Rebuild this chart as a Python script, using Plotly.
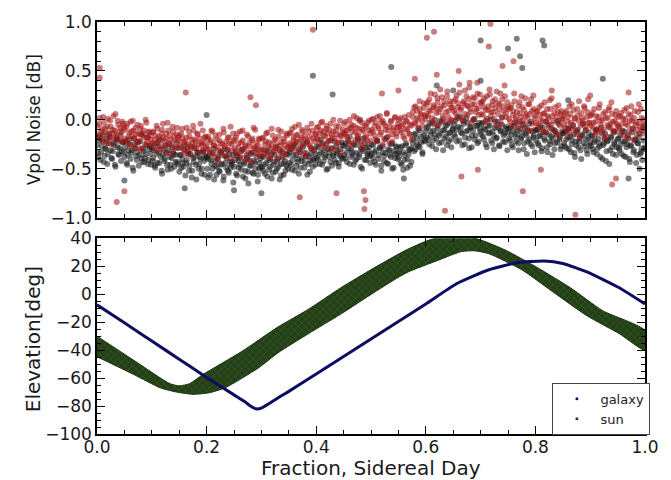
import numpy as np
import plotly.graph_objects as go

# ---------------- data: top panel (Vpol noise, hundredths of dB) ----------------
# Two interleaved sample sets per data set, 400 samples each, spread evenly over the day
BLACK_NOISE_A = [
    -26,-38,-17,-33,-22,-43,-29,-19,-35,-14,-31,-40,-24,-46,-20,-28,-36,-16,-32,-23,
    -38,-22,-46,-31,-25,-34,-49,-19,-29,-41,-23,-36,-15,-43,-32,-39,-26,-45,-30,-35,
    -29,-39,-47,-24,-44,-33,-21,-52,-36,-42,-26,-46,-31,-38,-50,-28,-35,-43,-23,-45,
    -53,-36,-40,-48,-26,-44,-32,-52,-35,-59,-39,-29,-46,-33,-50,-38,-55,-31,-42,-37,
    -38,-59,-35,-41,-50,-29,-47,-56,-40,-52,-33,-45,-62,-37,-49,-31,-54,-43,-46,-36,
    -48,-34,-57,-42,-39,-51,-30,-45,-60,-36,-53,-41,-47,-33,-55,-44,-38,-63,-50,-40,
    -37,-52,-46,-31,-58,-41,-48,-35,-54,-43,-29,-50,-39,-61,-45,-33,-56,-42,-47,-36,
    -44,-30,-51,-36,-25,-47,-40,-55,-33,-42,-28,-49,-38,-23,-45,-53,-35,-41,-31,-46,
    -27,-41,-36,-20,-46,-31,-38,-25,-50,-33,-43,-29,-37,-22,-44,-35,-48,-30,-39,-26,
    -36,-24,-43,-29,-17,-38,-33,-46,-26,-40,-21,-35,-48,-30,-19,-41,-28,-37,-32,-44,
    -25,-39,-33,-46,-21,-36,-29,-52,-27,-42,-34,-18,-45,-31,-38,-24,-49,-35,-28,-40,
    -33,-44,-27,-51,-36,-24,-40,-31,-47,-29,-20,-32,-14,-25,-9,-28,-17,-35,-22,-12,
    -8,-20,-3,-16,-27,-11,0,-19,-6,-24,-14,-2,-31,-10,-17,-5,-22,-13,-28,-9,
    -15,-1,-22,-7,4,-13,-26,-4,-18,2,-11,-29,-8,-16,0,-20,-6,-24,-3,-12,
    -4,-17,-9,-25,1,-14,-6,-21,-12,-30,-2,-18,-8,-27,-11,3,-16,-23,-7,-13,
    -19,-8,-26,-12,-3,-22,-15,-31,-9,-18,-5,-24,-14,-35,-11,-20,-2,-27,-16,-10,
    -11,-24,-17,-6,-29,-13,-21,-2,-33,-15,-25,-9,-19,-30,-12,-23,-4,-18,-27,-14,
    -24,-12,-29,-18,-8,-33,-21,-15,-38,-26,-10,-22,-31,-16,-4,-27,-20,-35,-13,-23,
    -17,-30,-23,-11,-35,-19,-27,-8,-40,-24,-14,-32,-21,-45,-18,-28,-12,-25,-36,-20,
    -29,-16,-35,-22,-12,-38,-25,-19,-43,-27,-9,-31,-20,-36,-24,-14,-33,-41,-21,-28,
]
BLACK_NOISE_B = [
    -34,-21,-41,-27,-15,-37,-30,-45,-24,-18,-39,-32,-26,-48,-20,-35,-29,-42,-23,-33,
    -28,-44,-36,-20,-40,-31,-52,-25,-37,-33,-47,-22,-39,-29,-43,-35,-18,-41,-27,-46,
    -42,-31,-49,-35,-27,-44,-38,-55,-30,-40,-34,-51,-25,-46,-39,-33,-48,-36,-43,-29,
    -36,-49,-44,-30,-57,-41,-35,-47,-27,-52,-43,-38,-61,-34,-45,-40,-50,-33,-56,-39,
    -50,-40,-56,-45,-34,-61,-42,-48,-37,-53,-46,-31,-58,-44,-39,-52,-35,-49,-43,-64,
    -41,-55,-37,-49,-46,-32,-58,-43,-52,-39,-65,-47,-35,-54,-42,-50,-30,-56,-44,-48,
    -49,-38,-55,-44,-33,-51,-40,-60,-46,-36,-53,-42,-48,-31,-57,-39,-45,-52,-35,-50,
    -33,-46,-41,-27,-52,-36,-43,-30,-49,-39,-24,-44,-34,-56,-37,-42,-29,-48,-40,-35,
    -39,-28,-45,-33,-24,-42,-36,-51,-30,-38,-21,-47,-35,-41,-27,-32,-44,-37,-23,-40,
    -27,-39,-33,-22,-45,-30,-36,-25,-42,-34,-19,-38,-29,-50,-32,-24,-41,-35,-28,-37,
    -35,-26,-43,-31,-22,-40,-28,-47,-33,-37,-20,-44,-30,-36,-25,-50,-32,-39,-27,-34,
    -38,-28,-46,-33,-41,-26,-49,-35,-30,-43,-24,-15,-30,-19,-27,-11,-23,-33,-16,-21,
    -18,-7,-25,-12,-4,-21,-15,-30,-9,-16,-1,-23,-11,-19,-6,-26,-14,-3,-20,-10,
    -5,-17,-10,2,-21,-8,-14,-1,-25,-12,-3,-19,-7,-28,-11,1,-16,-6,-22,-9,
    -15,-3,-20,-10,-28,-6,-13,0,-24,-16,-8,-19,-2,-26,-12,-5,-22,-14,-9,-31,
    -9,-21,-15,-28,-6,-17,-11,-24,-2,-19,-13,-30,-8,-16,-22,-4,-25,-12,-18,-33,
    -21,-10,-26,-16,-32,-8,-19,-13,-28,-5,-22,-17,-36,-11,-24,-15,-1,-20,-30,-12,
    -14,-27,-20,-9,-30,-17,-25,-6,-34,-22,-12,-28,-19,-40,-15,-24,-11,-31,-18,-26,
    -27,-16,-33,-21,-10,-29,-24,-38,-14,-26,-19,-42,-22,-7,-31,-17,-35,-23,-12,-28,
    -19,-31,-25,-11,-37,-22,-28,-16,-40,-26,-13,-33,-21,-44,-24,-18,-35,-29,-8,-30,
]
RED_NOISE_A = [
    -6,-17,2,-12,-20,-3,-9,-24,1,-14,-7,-19,4,-11,-16,-1,-22,-8,-13,-4,
    -10,-21,-4,-17,-26,-12,-1,-19,-8,-23,-14,-29,-6,-16,-11,-25,-3,-18,-13,-20,
    -24,-12,-20,-31,-9,-17,-27,-14,-4,-22,-19,-33,-11,-16,-26,-7,-21,-29,-15,-18,
    -16,-28,-9,-23,-35,-18,-25,-12,-30,-20,-6,-27,-22,-14,-33,-19,-26,-11,-24,-17,
    -29,-17,-33,-21,-12,-26,-38,-20,-31,-15,-24,-36,-9,-27,-22,-30,-18,-40,-25,-14,
    -20,-32,-14,-28,-37,-23,-11,-30,-26,-41,-17,-27,-34,-21,-8,-29,-24,-35,-19,-31,
    -30,-18,-35,-22,-13,-28,-39,-25,-16,-32,-20,-27,-10,-33,-23,-37,-19,-26,-14,-29,
    -14,-26,-9,-21,-31,-16,-23,-5,-28,-18,-12,-34,-20,-8,-25,-17,-30,-11,-22,-15,
    -19,-7,-24,-11,-2,-16,-28,-9,-14,-21,-4,-18,-12,-30,-6,-15,-23,-1,-17,-10,
    -4,-15,-11,-20,0,-8,-24,-6,-13,2,-17,-9,-26,-3,-12,-18,-7,-22,-1,-14,
    -10,1,-16,-3,-21,-7,4,-13,-1,-19,-6,7,-11,-24,-2,-15,-8,3,-17,-4,
    0,-11,-6,-17,3,-9,-2,-14,-5,-20,8,-3,14,2,-8,11,5,-1,17,4,
    16,4,21,9,-2,13,26,7,18,-5,11,23,1,15,8,29,3,19,12,-1,
    9,21,3,17,28,12,-1,19,6,24,14,33,8,16,0,22,11,27,5,18,
    17,5,22,10,-2,14,26,8,19,1,12,29,6,16,-4,21,9,24,3,13,
    1,12,-6,9,19,3,-3,14,7,24,-1,10,4,-9,16,6,21,-4,11,2,
    8,-5,13,0,-11,6,18,-2,4,-8,11,22,-1,7,-14,3,15,-6,9,1,
    -5,7,-12,3,14,-3,-9,10,1,-15,5,19,-6,2,-1,12,-10,8,-3,4,
    5,-8,11,-2,-13,3,16,-5,0,-10,8,-17,2,13,-4,6,-11,-1,9,-6,
    -7,4,-13,1,10,-4,-18,6,-1,14,-9,2,-5,-15,8,-3,11,-11,0,-6,
]
RED_NOISE_B = [
    -15,-4,-19,-9,3,-13,-22,-7,-17,-1,-25,-10,-14,6,-18,-5,-12,-21,-2,-8,
    -19,-7,-24,-13,-2,-17,-11,-28,-15,-5,-21,-9,-30,-14,-18,0,-23,-12,-16,-26,
    -13,-25,-16,-6,-22,-19,-30,-10,-18,-27,-14,-3,-24,-20,-35,-12,-17,-28,-8,-21,
    -26,-14,-19,-31,-22,-8,-28,-17,-36,-24,-11,-20,-29,-15,-25,-4,-23,-32,-18,-27,
    -19,-30,-23,-11,-35,-26,-16,-28,-42,-21,-33,-25,-13,-29,-37,-18,-24,-7,-31,-22,
    -29,-18,-36,-24,-12,-31,-21,-39,-27,-15,-33,-23,-43,-19,-28,-10,-34,-26,-20,-37,
    -19,-31,-25,-14,-36,-23,-29,-9,-33,-21,-27,-40,-17,-26,-12,-30,-22,-35,-16,-28,
    -24,-13,-29,-18,-7,-22,-15,-33,-20,-10,-26,-16,-37,-21,-12,-27,-4,-19,-31,-14,
    -8,-20,-14,-3,-26,-12,-17,-6,-22,-10,-29,-15,0,-19,-11,-24,-7,-16,-33,-13,
    -14,-2,-18,-9,-25,-5,-12,4,-20,-8,-15,-1,-23,-10,-29,-6,-17,-3,-11,-21,
    0,-12,-6,-20,3,-9,-15,-2,-25,-4,-10,6,-17,-7,-1,-22,-11,2,-14,-8,
    -7,2,-13,-4,-19,-1,-10,5,-15,-6,3,13,-4,9,0,19,6,-6,12,1,
    6,18,10,27,2,15,-4,12,22,8,31,14,4,19,-2,24,9,16,0,13,
    19,7,25,13,36,10,2,17,30,15,5,21,11,-3,23,16,8,38,12,26,
    6,19,13,-1,24,10,31,4,15,8,21,-6,17,11,27,2,14,35,7,18,
    11,-2,15,5,27,0,8,-8,18,3,13,-4,22,6,1,16,-11,9,25,4,
    -3,9,-8,5,15,-1,7,-13,11,2,20,-5,4,-10,13,-2,8,-16,6,0,
    4,-8,9,-2,-13,6,16,-5,2,-11,11,-1,-17,7,-4,14,-7,3,21,-3,
    -6,7,-3,-15,4,-9,12,-1,-12,6,-19,2,-5,10,-8,18,-2,-13,5,-4,
    3,-9,7,-4,-16,1,12,-6,-12,5,-1,-20,9,-3,-10,16,-7,2,-14,-5,
]
# sparse outliers (fraction of day, dB)
BLACK_OUT_X = [0.394, 0.43, 0.537, 0.70, 0.75, 0.766, 0.772, 0.776, 0.813, 0.816, 0.923,
               0.20, 0.48, 0.65, 0.62, 0.70, 0.86, 0.97, 0.99, 0.30, 0.16, 0.56, 0.05, 0.25]
BLACK_OUT_Y = [0.45, 0.26, 0.54, 0.81, 0.73, 0.83, 0.65, 0.53, 0.81, 0.76, 0.42,
               0.05, 0.00, 0.30, 0.35, 0.40, 0.20, -0.60, -0.50, -0.75, -0.70, -0.60, -0.62, -0.72]
RED_OUT_X = [0.005, 0.005, 0.036, 0.05, 0.162, 0.28, 0.29, 0.37, 0.394, 0.437, 0.487, 0.49,
             0.488, 0.602, 0.615, 0.635, 0.665, 0.695, 0.715, 0.718, 0.777, 0.81, 0.873,
             0.94, 0.947, 0.58, 0.62, 0.66, 0.68, 0.74, 0.76, 0.83, 0.90, 0.97, 0.55, 0.52]
RED_OUT_Y = [0.53, 0.43, -0.84, -0.73, 0.28, 0.23, 0.15, -0.79, 0.92, -0.75, -0.73, -0.82,
             -0.91, 0.84, 0.90, -0.93, -0.58, -0.51, 0.75, 0.98, -0.73, -0.51, -0.97,
             -0.66, -0.60, 0.42, 0.46, 0.50, 0.38, 0.55, 0.60, 0.30, 0.25, 0.28, 0.30, 0.27]

# ---------------- data: bottom panel (elevation, deg) ----------------
GAL_X = [0.0, 0.05, 0.10, 0.15, 0.20, 0.25, 0.27, 0.28, 0.29, 0.30, 0.315, 0.335, 0.35,
         0.40, 0.45, 0.50, 0.55, 0.60, 0.656, 0.715, 0.766, 0.816, 0.85, 0.894, 0.953, 1.0]
GAL_Y = [-7.6, -20.5, -33.5, -46.5, -59.5, -72, -77, -80, -82, -81.5, -78, -73, -69.5,
         -57, -44.5, -32, -19.5, -7, 7.5, 17.5, 22.5, 23.8, 22, 16, 4.6, -7]
SUN_TOP_X = [0.0, 0.068, 0.133, 0.15, 0.169, 0.193, 0.264, 0.33, 0.386, 0.445, 0.505,
             0.564, 0.605, 0.64, 0.692, 0.745, 0.805, 0.864, 0.923, 1.0]
SUN_TOP_Y = [-30, -47.5, -64, -65.5, -64, -57.5, -41, -23.5, -10.7, 4.6, 18.7,
             31.6, 38.6, 42, 39.8, 31.6, 18.7, 4.6, -11.8, -26]
SUN_BOT_X = [0.0, 0.068, 0.115, 0.145, 0.175, 0.205, 0.234, 0.294, 0.33, 0.386, 0.445,
             0.505, 0.564, 0.624, 0.665, 0.69, 0.715, 0.775, 0.834, 0.894, 0.953, 1.0]
SUN_BOT_Y = [-44.7, -57.6, -66.9, -70, -71.6, -70.5, -66.9, -52.9, -42, -28.2, -14.2,
             1.1, 15.2, 24.5, 30.5, 31, 29, 17.5, 1.1, -15.4, -28.2, -40]

SERIES_NAMES = ["galaxy", "sun"]
Y1_TITLE = "Vpol Noise [dB]"
Y2_TITLE = "Elevation[deg]"
X_TITLE = "Fraction, Sidereal Day"

# ---------------- figure ----------------
FONT = "DejaVu Sans"
NAVY = "rgb(12,12,96)"
GREEN = "#223f15"

n = len(BLACK_NOISE_A)
x_a = np.arange(n) / (n - 1)
x_b = (np.arange(n) + 0.5) / n

black_x = np.concatenate([x_a, x_b, BLACK_OUT_X])
black_y = np.concatenate([np.array(BLACK_NOISE_A) / 100.0,
                          np.array(BLACK_NOISE_B) / 100.0, BLACK_OUT_Y])
red_x = np.concatenate([x_a, x_b, RED_OUT_X])
red_y = np.concatenate([np.array(RED_NOISE_A) / 100.0,
                        np.array(RED_NOISE_B) / 100.0, RED_OUT_Y])

fig = go.Figure()
fig.add_trace(go.Scatter(x=black_x, y=black_y, mode="markers", xaxis="x", yaxis="y",
                         showlegend=False, hoverinfo="skip",
                         marker=dict(size=6, color="rgba(20,20,20,0.55)", line=dict(width=0))))
fig.add_trace(go.Scatter(x=red_x, y=red_y, mode="markers", xaxis="x", yaxis="y",
                         showlegend=False, hoverinfo="skip",
                         marker=dict(size=6, color="rgba(160,18,18,0.55)", line=dict(width=0))))

# sun band as closed polygon (top edge forward, bottom edge back)
band_x = list(SUN_TOP_X) + list(SUN_BOT_X[::-1])
band_y = list(SUN_TOP_Y) + list(SUN_BOT_Y[::-1])
fig.add_trace(go.Scatter(x=band_x, y=band_y, mode="lines", fill="toself",
                         xaxis="x2", yaxis="y2", showlegend=False, hoverinfo="skip",
                         fillcolor=GREEN,
                         fillpattern=dict(shape="x", size=5, solidity=0.2,
                                          fgcolor="#5a7c4d", bgcolor=GREEN),
                         line=dict(color="#1a330f", width=1, shape="spline", smoothing=0.6)))
fig.add_trace(go.Scatter(x=GAL_X, y=GAL_Y, mode="lines", xaxis="x2", yaxis="y2",
                         showlegend=False, hoverinfo="skip",
                         line=dict(color=NAVY, width=3, shape="spline", smoothing=0.5)))
# legend entries (small dots, as in the original)
fig.add_trace(go.Scatter(x=[None], y=[None], mode="markers", name=SERIES_NAMES[0],
                         xaxis="x2", yaxis="y2", marker=dict(size=3, color=NAVY)))
fig.add_trace(go.Scatter(x=[None], y=[None], mode="markers", name=SERIES_NAMES[1],
                         xaxis="x2", yaxis="y2", marker=dict(size=3, color=GREEN)))

tickfont = dict(family=FONT, size=17, color="#1a1a1a")
common = dict(showline=True, linecolor="black", linewidth=1.5, mirror="allticks",
              ticks="inside", ticklen=8, tickwidth=1, tickcolor="black",
              showgrid=False, zeroline=False, tickfont=tickfont)

fig.update_layout(
    width=671, height=480,
    margin=dict(l=97, r=13, t=15, b=46),
    paper_bgcolor="white", plot_bgcolor="white",
    font=dict(family=FONT, color="#1a1a1a"),
    xaxis=dict(domain=[0, 1], range=[0, 1], anchor="y", tick0=0, dtick=0.2,
               showticklabels=False,
               minor=dict(dtick=0.05, ticks="inside", ticklen=4, tickcolor="black"),
               **common),
    yaxis=dict(domain=[0.525, 1], range=[-1, 1], anchor="x", tick0=0, dtick=0.5,
               tickformat=".1f",
               minor=dict(dtick=0.1, ticks="inside", ticklen=4, tickcolor="black"),
               **common),
    xaxis2=dict(domain=[0, 1], range=[0, 1], anchor="y2", tick0=0, dtick=0.2,
                tickformat=".1f", ticklabelstandoff=-3,
                minor=dict(dtick=0.05, ticks="inside", ticklen=4, tickcolor="black"),
                **common),
    yaxis2=dict(domain=[0, 0.475], range=[-100, 40], anchor="x2", tick0=0, dtick=20,
                minor=dict(dtick=5, ticks="inside", ticklen=4, tickcolor="black"),
                **common),
    legend=dict(x=0.831, y=0.124, xanchor="left", yanchor="top",
                bgcolor="white", bordercolor="#444", borderwidth=1,
                font=dict(family=FONT, size=13, color="#222"), itemwidth=37),
    annotations=[
        dict(text=Y1_TITLE, xref="paper", yref="paper", x=-0.1159, y=0.7625,
             textangle=-90, showarrow=False, xanchor="center", yanchor="middle",
             font=dict(family=FONT, size=17, color="#1a1a1a")),
        dict(text=Y2_TITLE, xref="paper", yref="paper", x=-0.1168, y=0.23,
             textangle=-90, showarrow=False, xanchor="center", yanchor="middle",
             font=dict(family=FONT, size=20, color="#1a1a1a")),
        dict(text=X_TITLE, xref="paper", yref="paper", x=0.5, y=-0.082,
             showarrow=False, xanchor="center", yanchor="middle",
             font=dict(family=FONT, size=20, color="#1a1a1a")),
    ],
)

fig.write_html("out.html")
